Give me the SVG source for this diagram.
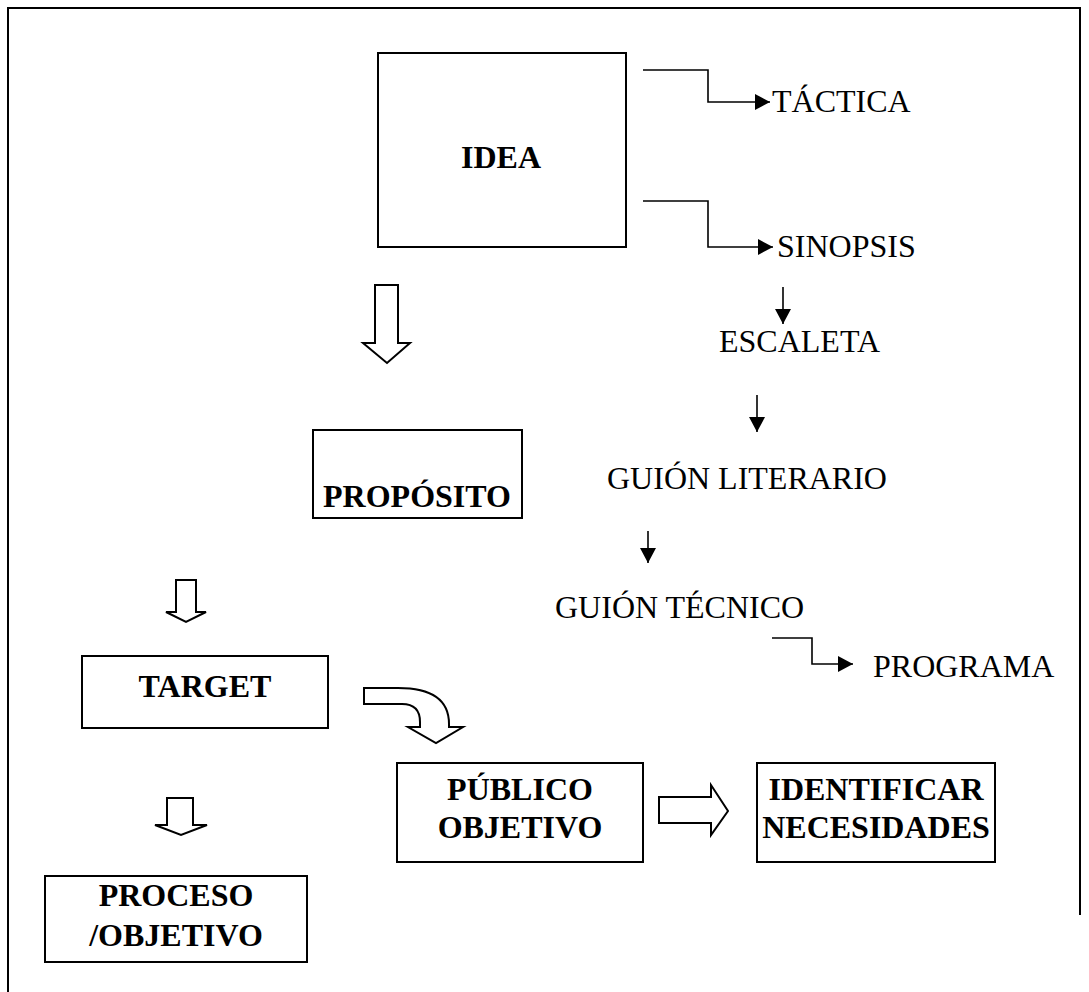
<svg xmlns="http://www.w3.org/2000/svg" width="1089" height="992" viewBox="0 0 1089 992">
<style>
.box{fill:#fff;stroke:#000;stroke-width:2}
.t{font-family:"Liberation Serif","Times New Roman",serif;font-size:32px;fill:#000}
.b{font-weight:bold;text-anchor:middle}
.ln{fill:none;stroke:#000;stroke-width:1.6}
.ha{fill:#fff;stroke:#000;stroke-width:2;stroke-linejoin:miter}
</style>
<defs>
<marker id="ah" markerWidth="16" markerHeight="16" refX="15" refY="8" orient="auto" markerUnits="userSpaceOnUse">
<path d="M0,0 L15,8 L0,16 Z" fill="#000"/>
</marker>
</defs>
<rect width="1089" height="992" fill="#fff"/>
<path d="M8,992 V8 H1080 V915" fill="none" stroke="#000" stroke-width="2"/>

<g id="idea"><rect class="box" x="378" y="53" width="248" height="194"/><text class="t b" x="501" y="168">IDEA</text></g>
<g id="tactica"><text class="t" x="772" y="112">TÁCTICA</text></g>
<g id="sinopsis"><text class="t" x="777" y="257">SINOPSIS</text></g>
<g id="escaleta"><text class="t" x="719" y="352">ESCALETA</text></g>
<g id="guion-literario"><text class="t" x="607" y="489">GUIÓN LITERARIO</text></g>
<g id="guion-tecnico"><text class="t" x="555" y="618">GUIÓN TÉCNICO</text></g>
<g id="programa"><text class="t" x="873" y="677">PROGRAMA</text></g>
<g id="proposito"><rect class="box" x="313" y="430" width="209" height="88"/><text class="t b" x="417" y="507">PROPÓSITO</text></g>
<g id="target"><rect class="box" x="82" y="656" width="246" height="72"/><text class="t b" x="205" y="697">TARGET</text></g>
<g id="publico"><rect class="box" x="397" y="763" width="246" height="99"/><text class="t b" x="520" y="800">PÚBLICO</text><text class="t b" x="520" y="838">OBJETIVO</text></g>
<g id="identificar"><rect class="box" x="757" y="763" width="238" height="99"/><text class="t b" x="876" y="800">IDENTIFICAR</text><text class="t b" x="876" y="838">NECESIDADES</text></g>
<g id="proceso"><rect class="box" x="45" y="876" width="262" height="86"/><text class="t b" x="176" y="906">PROCESO</text><text class="t b" x="176" y="946">/OBJETIVO</text></g>

<g id="connectors">
<path class="ln" d="M643,70 H708 V102 H770" marker-end="url(#ah)"/>
<path class="ln" d="M643,201 H708 V247 H773" marker-end="url(#ah)"/>
<path class="ln" d="M783,287 V324" marker-end="url(#ah)"/>
<path class="ln" d="M757,395 V432" marker-end="url(#ah)"/>
<path class="ln" d="M648,531 V563" marker-end="url(#ah)"/>
<path class="ln" d="M772,638 H812 V664 H853" marker-end="url(#ah)"/>
<path class="ha" d="M375,285 H398 V343 H410 L387,363 L363,343 H375 Z"/>
<path class="ha" d="M176,580 H196 V612 H206 L186,622 L166,612 H176 Z"/>
<path class="ha" d="M167,798 H193 V825 H207 L181,835 L155,825 H167 Z"/>
<path class="ha" d="M659,797 H711 V785 L728,811 L711,835 V823 H659 Z"/>
<path class="ha" d="M364,688 L398,688 Q449,688 449,724 L449,727 L463,727 L436,743 L408,727 L420,727 L420,722 Q420,704 402,704 L364,704 Z"/>
</g>
</svg>
